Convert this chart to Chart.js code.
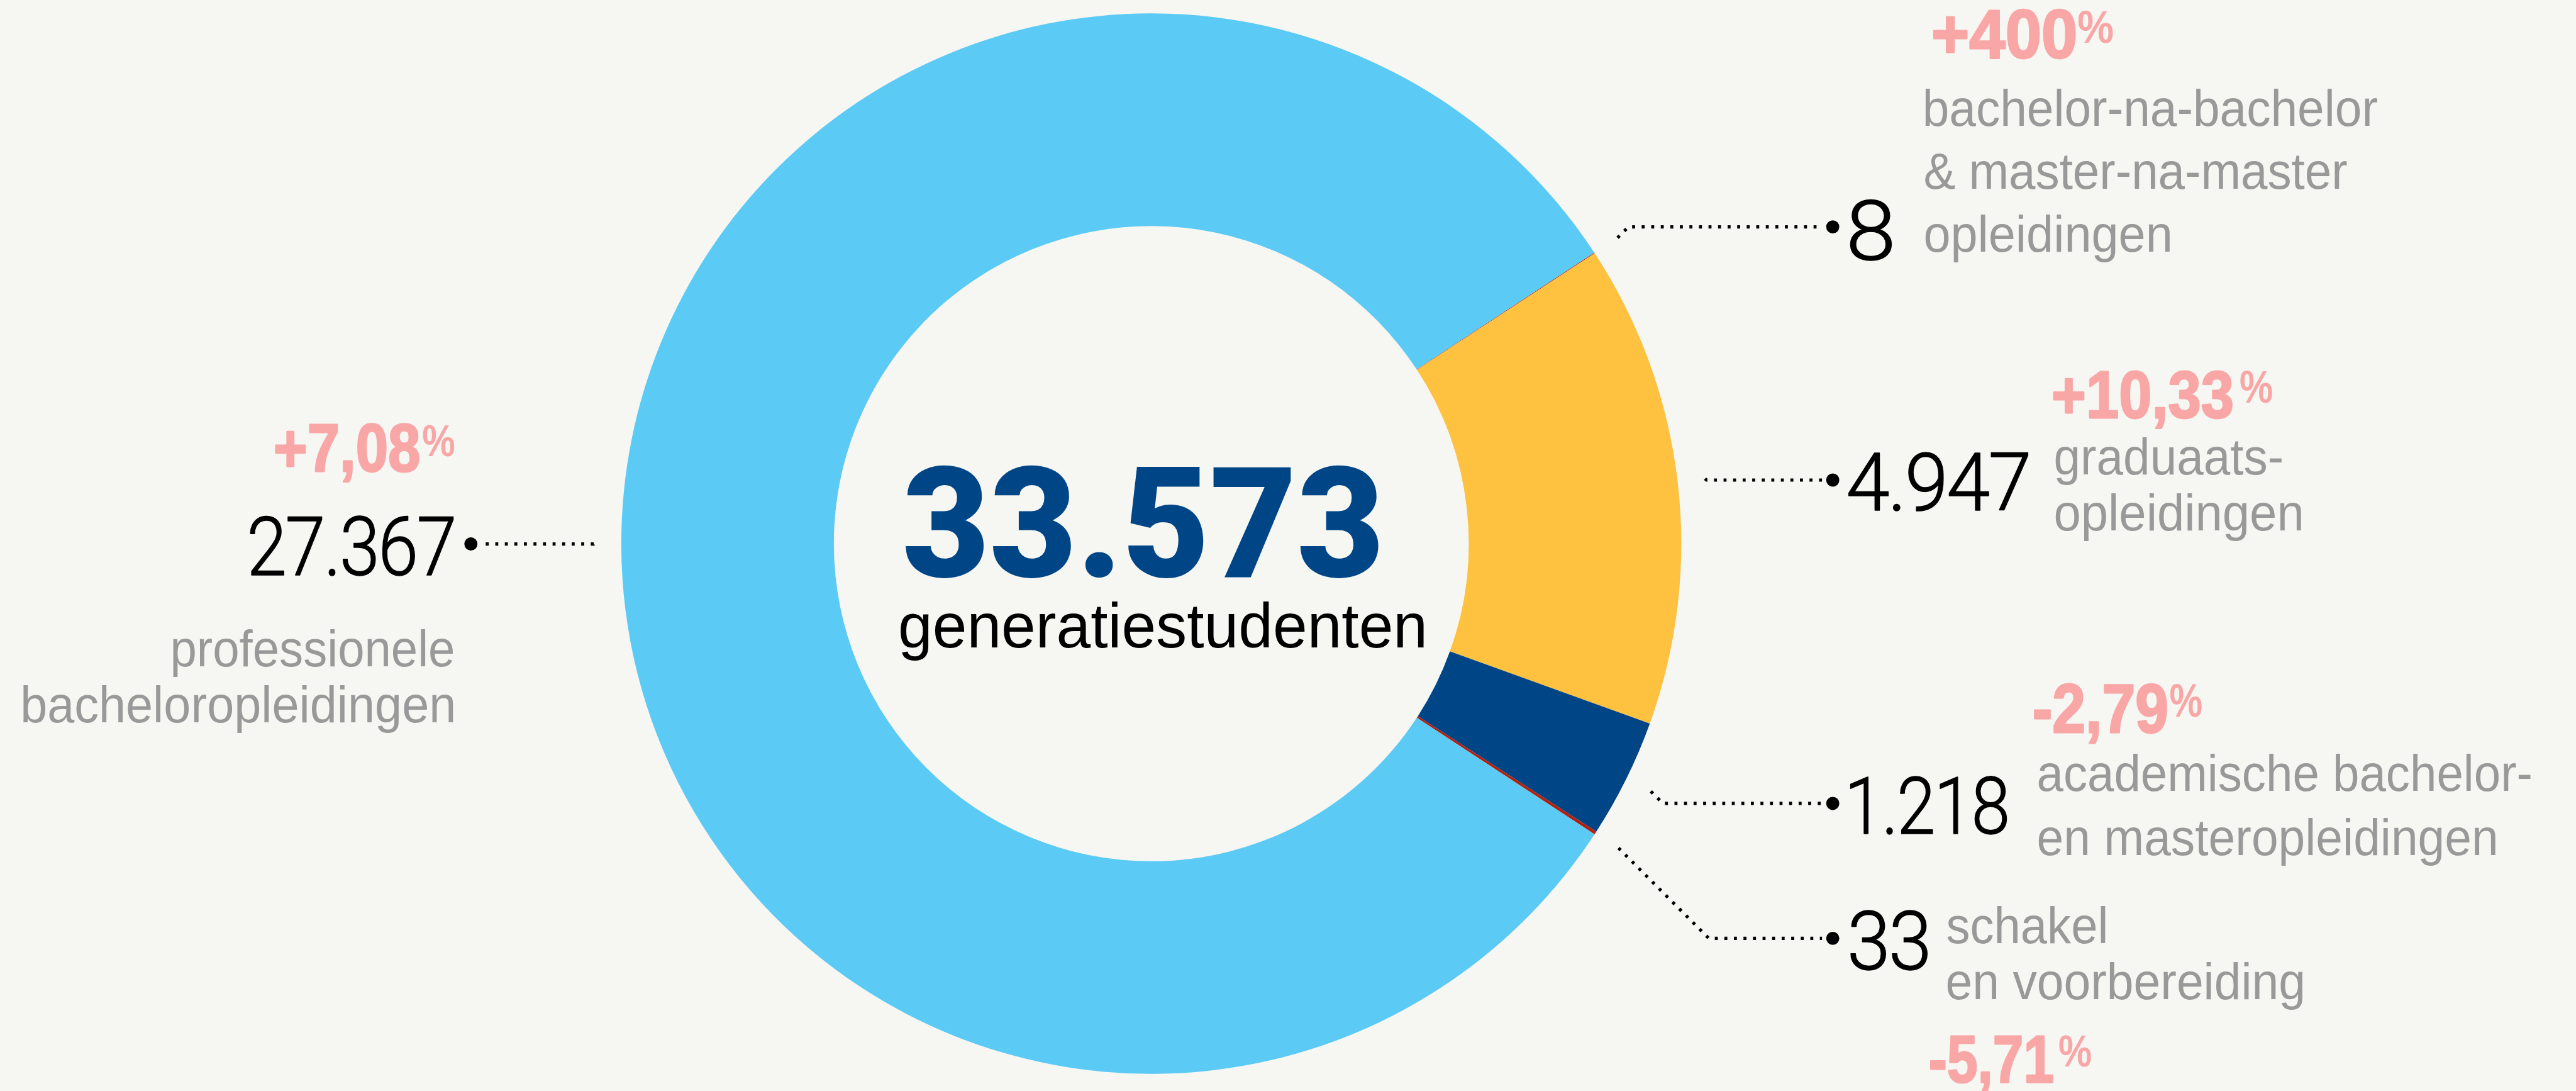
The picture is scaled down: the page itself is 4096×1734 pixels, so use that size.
<!DOCTYPE html>
<html><head><meta charset="utf-8">
<script src="https://cdn.jsdelivr.net/npm/chart.js@4.4.1/dist/chart.umd.min.js"></script>
<style>html,body{margin:0;padding:0;background:#F6F6F2;overflow:hidden}canvas{display:block}</style>
</head><body>
<canvas id="c" width="4096" height="1734" style="width:4096px;height:1734px"></canvas>
<script>
// ---------- DATA ----------
const categories = [
  'bachelor-na-bachelor & master-na-master opleidingen',
  'graduaatsopleidingen',
  'academische bachelor- en masteropleidingen',
  'schakel en voorbereiding',
  'professionele bacheloropleidingen'
];
const values = [8, 4947, 1218, 33, 27367];
const changeLabels = ['+400%', '+10,33%', '-2,79%', '-5,71%', '+7,08%'];
const labelLines = [
  ['bachelor-na-bachelor', '& master-na-master', 'opleidingen'],
  ['graduaats-', 'opleidingen'],
  ['academische bachelor-', 'en masteropleidingen'],
  ['schakel', 'en voorbereiding'],
  ['professionele', 'bacheloropleidingen']
];
const centerLabel = 'generatiestudenten';

// ---------- STYLE ----------
const sliceColors = ['#B3200E', '#FEC240', '#004687', '#B3200E', '#5BCAF5'];
const PINK = '#F9A7A6', GREY = '#999999', INK = '#000000', NAVY = '#004687';
const S = 0.949; // reference -> window scale

// ---------- LAYOUT (reference coordinates) ----------
const layout = [
  { side: 1, dotX: 3070.8, dotY: 380,
    num: { l: 3100.5, r: 3169.4, t: 335, b: 435 },
    chg: { l: 3240, r: 3476.8, t: 16.7, b: 96.7, pl: 3482, pr: 3540, pt: 18, pb: 72 },
    lines: [{ l: 3225.6, r: 3983.5, b: 210.7 }, { l: 3225.6, r: 3932.6, b: 316 }, { l: 3225.6, r: 3635.8, b: 421.7 }] },
  { side: 1, dotX: 3070.8, dotY: 804,
    num: { l: 3097, r: 3398, t: 758, b: 855 },
    chg: { l: 3441, r: 3740, t: 621.7, b: 700, pl: 3753.6, pr: 3807, pt: 621.7, pb: 675 },
    lines: [{ l: 3443.8, r: 3823, b: 795 }, { l: 3443.8, r: 3856, b: 888.3 }] },
  { side: 1, dotX: 3070.8, dotY: 1345.6,
    num: { l: 3100.5, r: 3362.3, t: 1299.6, b: 1396 },
    chg: { l: 3409, r: 3630.5, t: 1146.4, b: 1227, pl: 3636, pr: 3688.8, pt: 1146, pb: 1200.8 },
    lines: [{ l: 3415.3, r: 4240, b: 1324.3 }, { l: 3415.3, r: 4181.7, b: 1431.6 }] },
  { side: 1, dotX: 3070.8, dotY: 1571.5,
    num: { l: 3100.5, r: 3229.8, t: 1524.5, b: 1623.4 },
    chg: { l: 3235, r: 3439.7, t: 1734.6, b: 1812, pl: 3450, pr: 3503.3, pt: 1734.6, pb: 1786.5 },
    lines: [{ l: 3262.7, r: 3527.7, b: 1580 }, { l: 3262.7, r: 3858.4, b: 1673.8 }] },
  { side: -1, dotX: 789, dotY: 911,
    num: { l: 419.5, r: 759.7, t: 864.3, b: 963 },
    chg: { l: 461.6, r: 701.5, t: 711, b: 789.7, pl: 708.5, pr: 761, pt: 712, pb: 765 },
    lines: [{ l: 289.7, r: 759.7, b: 1116 }, { l: 38.6, r: 759.7, b: 1209.5 }] }
];
const centerNum = { l: 1515.7, r: 2311, t: 776.7, b: 966.7 };
const centerTxt = { l: 1508.7, r: 2386.2, b: 1084.3 };

const F_NUM = '300 138px Roboto, "Liberation Sans Narrow", sans-serif';
const F_PINK = 'bold 110px "Liberation Sans Narrow", "Liberation Sans", sans-serif';
const F_GREY = '86px "Liberation Sans Narrow", "Liberation Sans", sans-serif';
const F_BIG = '900 267px Roboto, "Liberation Sans Narrow", sans-serif';
const F_CTR = '106px "Liberation Sans Narrow", "Liberation Sans", sans-serif';

function fmt(n) { return String(n).replace(/\B(?=(\d{3})+(?!\d))/g, '.'); }

function inkFit(ctx, text, font, color, l, r, base, top, bold, spacing) {
  ctx.save();
  ctx.font = font; ctx.fillStyle = color; ctx.textAlign = 'left'; ctx.textBaseline = 'alphabetic';
  if (spacing && 'letterSpacing' in ctx) ctx.letterSpacing = spacing;
  const m = ctx.measureText(text);
  const w = m.actualBoundingBoxLeft + m.actualBoundingBoxRight;
  const sx = (r - l) / w;
  let sy = 1;
  if (top !== undefined) sy = (base - top) / m.actualBoundingBoxAscent;
  ctx.translate(l, base);
  ctx.scale(sx, sy);
  ctx.fillText(text, m.actualBoundingBoxLeft, 0);
  if (bold) {
    ctx.strokeStyle = color; ctx.lineWidth = bold; ctx.lineJoin = 'round';
    ctx.strokeText(text, m.actualBoundingBoxLeft, 0);
  }
  ctx.restore();
}
function inkBox(ctx, text, font, color, l, r, t, b) {
  ctx.save();
  ctx.font = font; ctx.fillStyle = color; ctx.textAlign = 'left'; ctx.textBaseline = 'alphabetic';
  const m = ctx.measureText(text);
  const w = m.actualBoundingBoxLeft + m.actualBoundingBoxRight;
  const h = m.actualBoundingBoxAscent + m.actualBoundingBoxDescent;
  const sx = (r - l) / w, sy = (b - t) / h;
  ctx.translate(l, t);
  ctx.scale(sx, sy);
  ctx.fillText(text, m.actualBoundingBoxLeft, m.actualBoundingBoxAscent);
  ctx.restore();
}

const annotations = {
  id: 'annotations',
  afterDraw(chart) {
    const ctx = chart.ctx;
    const meta = chart.getDatasetMeta(0);
    ctx.save();
    ctx.scale(S, S);
    values.forEach((v, i) => {
      const L = layout[i];
      const arc = meta.data[i];
      const mid = (arc.startAngle + arc.endAngle) / 2;
      const rr = arc.outerRadius * 1.052;
      const sx = (arc.x + Math.cos(mid) * rr) / S;
      const sy = (arc.y + Math.sin(mid) * rr) / S;
      const ex = sx + L.side * Math.abs(L.dotY - sy);
      // dotted leader
      ctx.save();
      ctx.strokeStyle = INK; ctx.lineWidth = 5.5; ctx.lineCap = 'butt';
      ctx.setLineDash([5, 11]);
      ctx.beginPath();
      ctx.moveTo(sx, sy);
      ctx.lineTo(ex, L.dotY);
      ctx.lineTo(L.dotX - L.side * 18, L.dotY);
      ctx.stroke();
      ctx.restore();
      // end dot
      ctx.fillStyle = INK;
      ctx.beginPath(); ctx.arc(L.dotX, L.dotY, 11, 0, Math.PI * 2); ctx.fill();
      // value
      inkFit(ctx, fmt(v), F_NUM, INK, L.num.l, L.num.r, L.num.b, L.num.t, 1.5, '-3px');
      // change
      const c = L.chg;
      const main = changeLabels[i].replace('%', '');
      inkFit(ctx, main, F_PINK, PINK, c.l, c.r, c.b, c.t, 3);
      inkBox(ctx, '%', F_PINK, PINK, c.pl, c.pr, c.pt, c.pb);
      // category lines
      labelLines[i].forEach((line, k) => {
        const ln = L.lines[k];
        inkFit(ctx, line, F_GREY, GREY, ln.l, ln.r, ln.b);
      });
    });
    const total = values.reduce((a, b) => a + b, 0);
    inkFit(ctx, fmt(total), F_BIG, NAVY, centerNum.l, centerNum.r, centerNum.b, centerNum.t);
    inkFit(ctx, centerLabel, F_CTR, INK, centerTxt.l, centerTxt.r, centerTxt.b);
    ctx.restore();
  }
};

const cx = 1929 * S, cy = 910.5 * S;
new Chart(document.getElementById('c'), {
  type: 'doughnut',
  data: {
    labels: categories,
    datasets: [{ data: values, backgroundColor: sliceColors, borderWidth: 0, hoverOffset: 0 }]
  },
  options: {
    responsive: false,
    devicePixelRatio: 1,
    animation: false,
    rotation: 56.7,
    cutout: '59.9%',
    radius: 888 * S,
    layout: { padding: { left: 0, top: 0, right: 4096 - 2 * cx, bottom: 1734 - 2 * cy } },
    plugins: { legend: { display: false }, tooltip: { enabled: false } },
    events: []
  },
  plugins: [annotations]
});
</script>
</body></html>
